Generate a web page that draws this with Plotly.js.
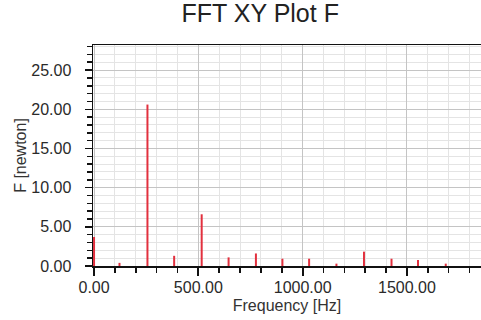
<!DOCTYPE html>
<html>
<head>
<meta charset="utf-8">
<script src="https://cdn.plot.ly/plotly-3.0.1.min.js"></script>
<style>html,body{margin:0;padding:0;background:#fff;}#chart{width:481px;height:320px;}</style>
</head>
<body>
<div id="chart"></div>
<script>
// Frequency (Hz) and amplitude (newton)
const frequencies = [0, 122, 256, 384, 516, 645, 776, 903, 1031, 1162, 1294, 1426, 1553, 1686];
const amplitudes  = [3.7, 0.4, 20.6, 1.3, 6.6, 1.1, 1.6, 0.93, 0.93, 0.3, 1.83, 0.93, 0.77, 0.3];
const xTickVals = [0, 500, 1000, 1500];
const yTickVals = [0, 5, 10, 15, 20, 25];

// stems: each value becomes a vertical segment from 0 to its amplitude
const stemX = [], stemY = [];
frequencies.forEach((f, i) => { stemX.push(f, f, null); stemY.push(0, amplitudes[i], null); });

const trace = {
  type: 'scatter', mode: 'lines',
  x: stemX, y: stemY,
  line: {color: '#e2303e', width: 2},
  connectgaps: false,
  hoverinfo: 'x+y'
};

const FONT = 'Liberation Sans, Arial, sans-serif';
const tickFont = {family: FONT, size: 16, color: '#2a2a2a'};

const layout = {
  width: 481, height: 320,
  margin: {l: 93, r: 0, t: 45, b: 54},
  paper_bgcolor: '#fff', plot_bgcolor: '#fff',
  showlegend: false,
  title: {
    text: 'FFT XY Plot F',
    font: {family: FONT, size: 25, color: '#222'},
    xref: 'container', x: 0.541, xanchor: 'center',
    yref: 'container', y: 0.96, yanchor: 'middle'
  },
  xaxis: {
    range: [-5, 1855],
    tickvals: xTickVals,
    tickformat: '.2f',
    ticks: 'outside', ticklen: 8, tickwidth: 2, tickcolor: '#111',
    showline: true, linecolor: '#111', linewidth: 1.5, mirror: true,
    showgrid: true, gridcolor: '#c4c4c4', gridwidth: 1,
    zeroline: false,
    tickfont: tickFont,
    ticklabelstandoff: -2,
    minor: {dtick: 100, tick0: 0, ticks: 'outside', ticklen: 5, tickwidth: 1.5, tickcolor: '#111', showgrid: true, gridcolor: '#e4e4e4', gridwidth: 1},
    title: {text: 'Frequency [Hz]', font: {family: FONT, size: 16, color: '#333'}, standoff: 5}
  },
  yaxis: {
    range: [0, 28.2],
    tickvals: yTickVals,
    tickformat: '.2f',
    ticks: 'outside', ticklen: 7, tickwidth: 1.5, tickcolor: '#111',
    showline: true, linecolor: '#111', linewidth: 1.5,
    showgrid: true, gridcolor: '#c4c4c4', gridwidth: 1,
    zeroline: false,
    tickfont: tickFont,
    ticklabelstandoff: 10,
    minor: {dtick: 1, tick0: 0, ticks: 'outside', ticklen: 5, tickwidth: 1.5, tickcolor: '#111', showgrid: true, gridcolor: '#e4e4e4', gridwidth: 1},
    title: {text: 'F [newton]', font: {family: FONT, size: 16, color: '#333'}, standoff: 0}
  }
};

Plotly.newPlot('chart', [trace], layout, {displayModeBar: false, staticPlot: true});
</script>
</body>
</html>
